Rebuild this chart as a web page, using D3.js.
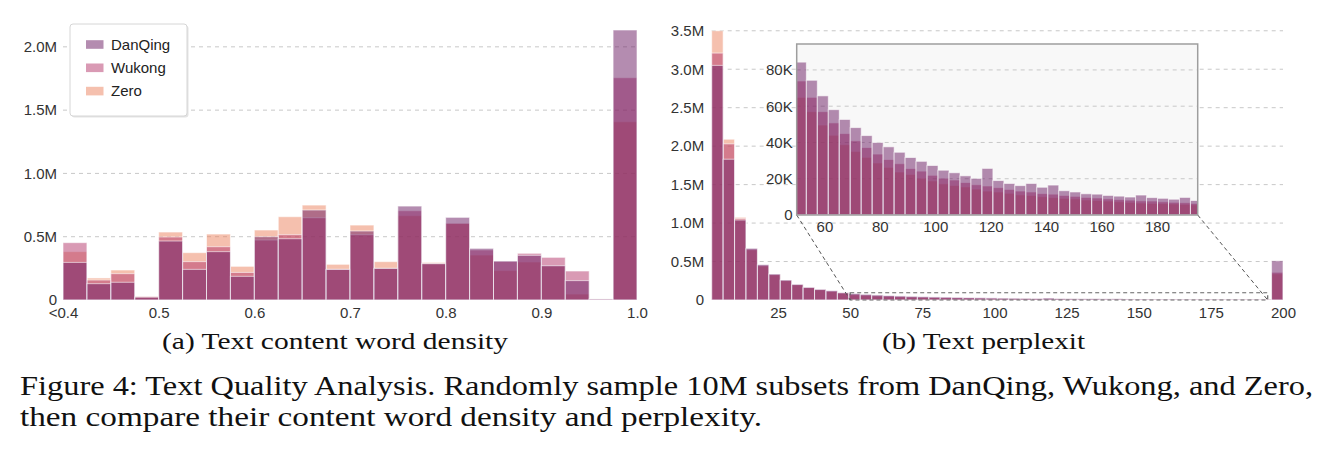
<!DOCTYPE html>
<html>
<head>
<meta charset="utf-8">
<script src="https://cdn.jsdelivr.net/npm/d3@7"></script>
<style>
  body { margin: 0; background: #fff; }
  .tick text { font-family: "Liberation Sans", Arial, sans-serif; font-size: 15px; fill: #333; }
  .cap { font-family: "Liberation Serif", "DejaVu Serif", serif; fill: #111; }
</style>
</head>
<body>
<script>
// series, drawn back to front
var seriesNames = ["Zero", "Wukong", "DanQing"];
var legendNames = ["DanQing", "Wukong", "Zero"];
var colors = { DanQing: "#691961", Wukong: "#b33569", Zero: "#eb815d" };

// (a) content word density, bins of 0.025, values in millions
var densityBins = [0.4, 0.425, 0.45, 0.475, 0.5, 0.525, 0.55, 0.575, 0.6, 0.625, 0.65, 0.675,
                   0.7, 0.725, 0.75, 0.775, 0.8, 0.825, 0.85, 0.875, 0.9, 0.925, 0.95, 0.975];
var densityBinWidth = 0.025;
var densityTicks = [0.4, 0.5, 0.6, 0.7, 0.8, 0.9, 1.0];
var densityDanQing = [0.297, 0.129, 0.14, 0.022, 0.466, 0.242, 0.382, 0.187, 0.50, 0.484, 0.711, 0.242,
                      0.545, 0.25, 0.742, 0.287, 0.653, 0.408, 0.308, 0.353, 0.271, 0.153, 0.008, 2.133];
var densityWukong = [0.453, 0.158, 0.208, 0.027, 0.498, 0.303, 0.421, 0.218, 0.474, 0.516, 0.65, 0.242,
                     0.516, 0.25, 0.705, 0.287, 0.606, 0.395, 0.305, 0.369, 0.337, 0.229, 0.008, 1.756];
var densityZero = [0.382, 0.174, 0.237, 0.029, 0.537, 0.374, 0.521, 0.266, 0.553, 0.658, 0.75, 0.282,
                   0.592, 0.303, 0.666, 0.297, 0.606, 0.355, 0.232, 0.30, 0.268, 0.047, 0.008, 1.408];
var densityYTicks = [0, 0.5e6, 1.0e6, 1.5e6, 2.0e6];

// (b) perplexity, 50 bins from 2 to 200, values in thousands
var perpBinWidth = 3.96;
var perpBins = d3.range(50).map(function (i) { return 2 + i * perpBinWidth; });
var perpTicks = [25, 50, 75, 100, 125, 150, 175, 200];
var perpYTicks = [0, 0.5e6, 1.0e6, 1.5e6, 2.0e6, 2.5e6, 3.0e6, 3.5e6];
var insetXTicks = [60, 80, 100, 120, 140, 160, 180];
var insetYTicks = [0, 20e3, 40e3, 60e3, 80e3];
var perpDanQing = [3050, 1830, 1040, 672, 460, 338, 260, 204, 165, 139, 121, 95,
                   84.3, 74.3, 65.7, 58.1, 52.7, 48.2, 43.8, 40, 37.6, 34.6, 31.7, 29.6, 27.3, 24.7, 23.3, 21.6,
                   20.2, 25.7, 19, 17.4, 16.2, 17.4, 15.3, 16.5, 13.4, 12.7, 11.7, 11.5, 10.8, 10.4, 9.9, 11,
                   9.6, 9.2, 8.7, 9.7, 8, 510];
var perpWukong = [3210, 2030, 1060, 660, 450, 332, 255, 200, 162, 135, 116, 93,
                  73.9, 64.9, 57, 50.8, 44.9, 40.9, 37.2, 33.6, 30.6, 28.3, 25.6, 24.2, 21.9, 20.3, 19.3, 17.9,
                  16.7, 16, 15.1, 14.1, 13.2, 12.7, 11.8, 11.5, 10.8, 10.3, 9.7, 9.4, 8.9, 8.5, 8.2, 7.8,
                  7.7, 7.3, 7, 6.8, 6.4, 360];
var perpZero = [3500, 2090, 1075, 650, 440, 325, 250, 195, 158, 132, 112, 90,
                64.9, 57, 49.6, 44, 38.8, 35.1, 31.8, 28.7, 26.3, 23.7, 22.4, 20.3, 18.8, 17.2, 16.3, 15.5,
                14.3, 13.2, 12.7, 12, 11.1, 10.8, 10.1, 9.6, 9.2, 8.9, 8.3, 8, 7.7, 7.3, 7,
                6.6, 6.4, 6.3, 6.1, 5.9, 5.6, 340];

var svg = d3.select("body")
    .append("svg")
    .attr("width", 1333)
    .attr("height", 453);

function fmtM(d) { return d === 0 ? "0" : d3.format(".1f")(d / 1e6) + "M"; }
function fmtK(d) { return d === 0 ? "0" : (d / 1e3) + "K"; }

function grid(g, y, ticks, x0, x1) {
    g.selectAll(null)
        .data(ticks.filter(function (t) { return t > 0; }))
        .enter().append("line")
        .attr("x1", x0).attr("x2", x1)
        .attr("y1", function (d) { return y(d); })
        .attr("y2", function (d) { return y(d); })
        .attr("stroke", "#c8c8c8")
        .attr("stroke-dasharray", "4,4");
}

function bars(g, bins, w, data, scale, x, y) {
    seriesNames.forEach(function (name) {
        g.selectAll(null)
            .data(bins.map(function (b, i) { return { x: b, v: data[name][i] * scale }; }))
            .enter().append("rect")
            .attr("x", function (d) { return x(d.x); })
            .attr("width", function (d) { return x(d.x + w) - x(d.x); })
            .attr("y", function (d) { return y(d.v); })
            .attr("height", function (d) { return y(0) - y(d.v); })
            .attr("fill", colors[name])
            .attr("fill-opacity", 0.5)
            .attr("stroke", "#fff")
            .attr("stroke-opacity", 0.6)
            .attr("stroke-width", 1);
    });
}

function clean(axisG) {
    axisG.select(".domain").remove();
    axisG.selectAll(".tick line").remove();
}

// ---------- (a) ----------
var xA = d3.scaleLinear().domain([0.4, 1.0]).range([63, 637]);
var yA = d3.scaleLinear().domain([0, 2.212e6]).range([300, 20]);
var gA = svg.append("g");
grid(gA, yA, densityYTicks, 63, 637);
bars(gA, densityBins, densityBinWidth,
     { DanQing: densityDanQing, Wukong: densityWukong, Zero: densityZero }, 1e6, xA, yA);

gA.append("g")
    .attr("transform", "translate(63,0)")
    .call(d3.axisLeft(yA).tickValues(densityYTicks).tickFormat(fmtM).tickSize(0).tickPadding(6))
    .call(clean);
gA.append("g")
    .attr("transform", "translate(0,300)")
    .call(d3.axisBottom(xA).tickValues(densityTicks)
        .tickFormat(function (d) { return d === 0.4 ? "<0.4" : d3.format(".1f")(d); })
        .tickSize(0).tickPadding(7))
    .call(clean);

// legend
var lg = svg.append("g");
lg.append("rect").attr("x", 71.5).attr("y", 25.5).attr("width", 117).attr("height", 92)
    .attr("rx", 3).attr("fill", "#e4e4e4");
lg.append("rect").attr("x", 70).attr("y", 24).attr("width", 117).attr("height", 92)
    .attr("rx", 3).attr("fill", "#fff").attr("stroke", "#d6d6d6");
legendNames.forEach(function (name, i) {
    var cy = 44.5 + i * 23.3;
    lg.append("rect").attr("x", 86).attr("y", cy - 4.3).attr("width", 17.5).attr("height", 8.6)
        .attr("fill", colors[name]).attr("fill-opacity", 0.5);
    lg.append("text").attr("x", 111).attr("y", cy + 5.3)
        .style("font-family", "'Liberation Sans', Arial, sans-serif")
        .style("font-size", "15px").style("fill", "#222")
        .text(name);
});

// ---------- (b) ----------
var xB = d3.scaleLinear().domain([2, 200]).range([711.7, 1283]);
var yB = d3.scaleLinear().domain([0, 3.64e6]).range([300, 20]);
var perpData = { DanQing: perpDanQing, Wukong: perpWukong, Zero: perpZero };
var gB = svg.append("g");
grid(gB, yB, perpYTicks, 711.7, 1283);
bars(gB, perpBins, perpBinWidth, perpData, 1e3, xB, yB);

gB.append("g")
    .attr("transform", "translate(711.7,0)")
    .call(d3.axisLeft(yB).tickValues(perpYTicks).tickFormat(fmtM).tickSize(0).tickPadding(7.5))
    .call(clean);
gB.append("g")
    .attr("transform", "translate(0,300)")
    .call(d3.axisBottom(xB).tickValues(perpTicks).tickSize(0).tickPadding(7))
    .call(clean);

// inset
var xI = d3.scaleLinear().domain([50, 194.7]).range([796.7, 1197.7]);
var yI = d3.scaleLinear().domain([0, 94.3e3]).range([215, 44]);

// zoom marker
gB.append("rect")
    .attr("x", xB(50)).attr("y", yB(94.3e3))
    .attr("width", xB(194.7) - xB(50)).attr("height", yB(0) - yB(94.3e3))
    .attr("fill", "none").attr("stroke", "#666").attr("stroke-width", 1.2)
    .attr("stroke-dasharray", "4,3");
[[xI(50), xB(50)], [xI(194.7), xB(194.7)]].forEach(function (p) {
    gB.append("line")
        .attr("x1", p[0]).attr("y1", yI(0)).attr("x2", p[1]).attr("y2", yB(0))
        .attr("stroke", "#555").attr("stroke-width", 1).attr("stroke-dasharray", "4,3");
});

var gI = svg.append("g");
gI.append("clipPath").attr("id", "insetClip")
    .append("rect").attr("x", 796.7).attr("y", 44).attr("width", 401).attr("height", 171);
gI.append("rect").attr("x", 796.7).attr("y", 44).attr("width", 401).attr("height", 171)
    .attr("fill", "#f8f8f8");
var gIc = gI.append("g").attr("clip-path", "url(#insetClip)");
grid(gIc, yI, insetYTicks, 796.7, 1197.7);
bars(gIc, perpBins, perpBinWidth, perpData, 1e3, xI, yI);
gI.append("rect").attr("x", 796.7).attr("y", 44).attr("width", 401).attr("height", 171)
    .attr("fill", "none").attr("stroke", "#9e9e9e").attr("stroke-width", 1.5);

gI.append("g")
    .attr("transform", "translate(796.7,0)")
    .call(d3.axisLeft(yI).tickValues(insetYTicks).tickFormat(fmtK).tickSize(0).tickPadding(4))
    .call(clean);
gI.append("g")
    .attr("transform", "translate(0,215)")
    .call(d3.axisBottom(xI).tickValues(insetXTicks).tickSize(0).tickPadding(6))
    .call(clean);

// ---------- captions ----------
svg.append("text").attr("class", "cap")
    .attr("x", 162).attr("y", 349).style("font-size", "24px")
    .attr("textLength", 346).attr("lengthAdjust", "spacingAndGlyphs")
    .text("(a) Text content word density");
svg.append("text").attr("class", "cap")
    .attr("x", 882).attr("y", 349).style("font-size", "24px")
    .attr("textLength", 203).attr("lengthAdjust", "spacingAndGlyphs")
    .text("(b) Text perplexit");
svg.append("text").attr("class", "cap")
    .attr("x", 20).attr("y", 395).style("font-size", "27px")
    .attr("textLength", 1293).attr("lengthAdjust", "spacingAndGlyphs")
    .text("Figure 4: Text Quality Analysis. Randomly sample 10M subsets from DanQing, Wukong, and Zero,");
svg.append("text").attr("class", "cap")
    .attr("x", 20).attr("y", 426).style("font-size", "27px")
    .attr("textLength", 742).attr("lengthAdjust", "spacingAndGlyphs")
    .text("then compare their content word density and perplexity.");
</script>
</body>
</html>
